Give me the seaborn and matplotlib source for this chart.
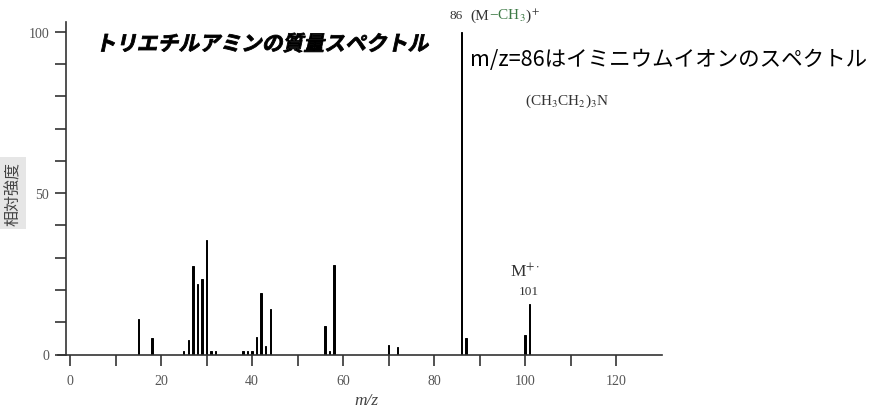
import numpy as np
import pandas as pd
import matplotlib
matplotlib.use('Agg')
import matplotlib.pyplot as plt
import seaborn as sns
from matplotlib.patheffects import AbstractPathEffect
from matplotlib.transforms import Affine2D

# Peak list
mz = [15, 18, 25, 26, 27, 28, 29, 30, 31, 32, 38, 39, 40, 41, 42, 43, 44,
      56, 57, 58, 70, 72, 86, 87, 100, 101]
intensity = [11, 5, 1.2, 4.4, 27.5, 21.8, 23.4, 35.5, 1.2, 1.2, 1.2, 1.2, 1.2,
             5.4, 19.2, 2.7, 14, 8.8, 1.2, 27.6, 3, 2.3, 100, 5.2, 5.9, 15.5]
x_ticks = [0, 20, 40, 60, 80, 100, 120]
x_minor = [10, 30, 50, 70, 90, 110]
y_ticks = [0, 50, 100]
y_minor = [10, 20, 30, 40, 60, 70, 80, 90]

W, H = 872, 410


def px(x, y):
    # pixel position (from top-left) -> figure fraction
    return x / W, 1 - y / H


class Slant(AbstractPathEffect):
    """Fake italic for fonts that have no italic face."""

    def __init__(self, angle=12, stroke=0.0):
        super().__init__()
        self.angle = angle
        self.stroke = stroke

    def draw_path(self, renderer, gc, tpath, affine, rgbFace=None):
        gc0 = renderer.new_gc()
        gc0.copy_properties(gc)
        gc0.set_linewidth(self.stroke)
        gc0.set_foreground(rgbFace)
        renderer.draw_path(gc0, tpath, Affine2D().skew_deg(self.angle, 0) + affine, rgbFace)
        gc0.restore()


sns.set_theme(style='ticks')
plt.rcParams['font.family'] = ['Liberation Serif', 'Noto Sans CJK JP']
plt.rcParams['mathtext.fontset'] = 'stix'

fig = plt.figure(figsize=(W / 100, H / 100), dpi=100)
ax = fig.add_axes([58 / W, 1 - 355.5 / H, (662 - 58) / W, (355.5 - 23) / H])

spec = pd.DataFrame({'mz': mz, 'intensity': intensity})
sns.barplot(data=spec, x='mz', y='intensity', native_scale=True, width=0.3,
            color='black', saturation=1, errorbar=None,
            edgecolor='black', linewidth=0.7, ax=ax)

ax.set_xlim(-2.64, 130.1)
ax.set_ylim(0, 103)
ax.spines[['top', 'right']].set_visible(False)
ax.spines['left'].set_position(('data', -0.88))
for s in ['left', 'bottom']:
    ax.spines[s].set_color('#333333')
    ax.spines[s].set_linewidth(1.2)

ax.set_xticks(x_ticks)
ax.set_xticks(x_minor, minor=True)
ax.set_yticks(y_ticks)
ax.set_yticks(y_minor, minor=True)
ax.tick_params(which='both', length=8, width=1.2, color='#333333', direction='out')
ax.tick_params(axis='x', labelsize=10, labelcolor='#555555', pad=6)
ax.tick_params(axis='y', labelsize=10, labelcolor='#555555', pad=4)
ax.set_xlabel('')
ax.set_ylabel('')

cjk = ['Noto Sans CJK JP', 'DejaVu Sans']

# title and notes
fig.text(*px(95, 45), 'トリエチルアミンの質量スペクトル', family=cjk, fontsize=15,
         fontweight='bold', color='black', ha='left', va='center',
         path_effects=[Slant(12, 0.6)])
fig.text(*px(470, 60), 'm/z=86はイミニウムイオンのスペクトル', family=cjk,
         fontsize=15.5, color='black', ha='left', va='center')
fig.text(*px(525, 101), r'(CH$_3$CH$_2$)$_3$N', fontsize=11, color='#333333',
         ha='left', va='center')

# peak labels; the fragment label is chained piece by piece for the colours
base = 1 - 20 / H
fig.text(*px(449, 16), '86', fontsize=9.5, color='#333333', ha='left', va='center')
t1 = fig.text(470 / W, base, '(M', fontsize=11, color='#333333', ha='left', va='baseline')
t2 = ax.annotate('\u2212CH$_3$', xy=(1, base), xycoords=(t1, 'figure fraction'),
                 fontsize=11, color='#3d7a45', ha='left', va='baseline')
ax.annotate(')$^+$', xy=(1, base), xycoords=(t2, 'figure fraction'),
            fontsize=11, color='#333333', ha='left', va='baseline')
fig.text(*px(510, 272), r'M$^{+\cdot}$', fontsize=12.5, color='#333333', ha='left', va='center')
fig.text(*px(529, 292), '101', fontsize=9.5, color='#333333', ha='center', va='center')

# axis labels
fig.text(*px(366, 401), 'm/z', fontsize=12.5, style='italic', color='#444444',
         ha='center', va='center')
fig.text(*px(13, 194), '相対強度', family=cjk, fontsize=11.5, rotation=90,
         color='#444444', ha='center', va='center',
         bbox=dict(facecolor='#e6e6e6', edgecolor='none', pad=3))

fig.savefig('out.png', dpi=100)
